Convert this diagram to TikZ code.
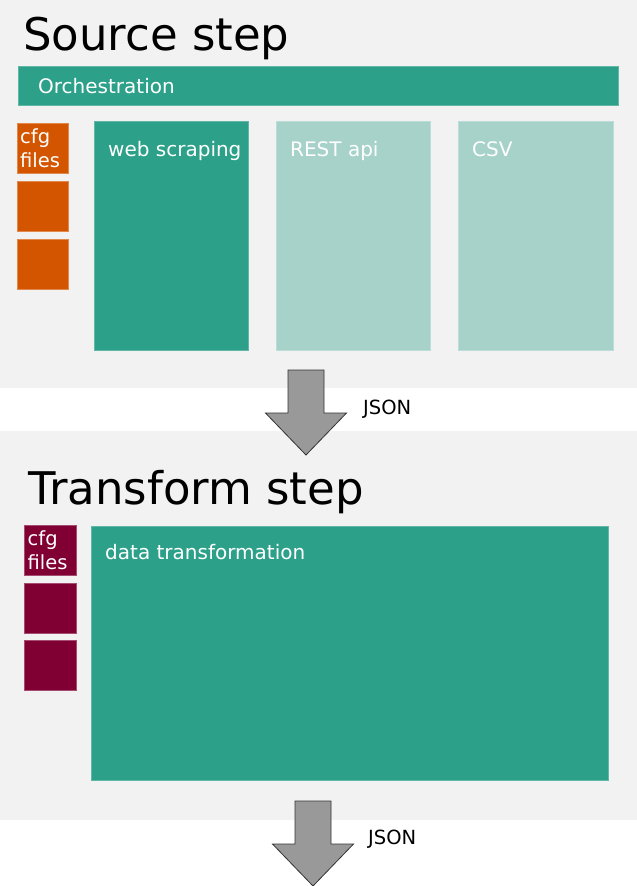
\documentclass[tikz,border=0pt]{standalone}
\usepackage{fontspec}
\setmainfont{DejaVu Sans}
\definecolor{panelgray}{HTML}{F2F2F2}
\definecolor{tealbox}{HTML}{2CA089}
\definecolor{paletealbox}{HTML}{A6D2C9}
\definecolor{cfgorange}{HTML}{D45500}
\definecolor{cfgmaroon}{HTML}{800033}
\definecolor{arrowgray}{HTML}{999999}
\definecolor{arrowedge}{HTML}{333333}
\tikzset{
  panel/.style={fill=panelgray, draw=none, inner sep=0, outer sep=0, anchor=north west},
  block/.style={inner sep=0, outer sep=0, anchor=north west, line width=0.7pt},
  tealblock/.style={block, fill=tealbox, draw=tealbox!75!white},
  paleblock/.style={block, fill=paletealbox, draw=paletealbox!75!white},
  orangeblock/.style={block, fill=cfgorange, draw=cfgorange!70!white, minimum width=51, minimum height=50},
  maroonblock/.style={block, fill=cfgmaroon, draw=cfgmaroon!70!white, minimum width=52, minimum height=50},
  lbl/.style={text=white, anchor=base west, inner sep=0, font=\fontsize{20}{24}\selectfont},
  cfglbl/.style={text=white, anchor=base west, inner sep=0, font=\fontsize{19.5}{23}\selectfont},
  steptitle/.style={text=black, anchor=base west, inner sep=0, font=\fontsize{45}{54}\selectfont},
  datalbl/.style={text=black, anchor=base west, inner sep=0, font=\fontsize{19.5}{23}\selectfont},
  downarrow/.pic={
    \draw[fill=arrowgray, draw=arrowedge, line width=0.8pt, line join=miter]
      (-18,0) -- (18,0) -- (18,43) -- (40.5,43) -- (0,85) -- (-40.5,43) -- (-18,43) -- cycle;
  }
}
\begin{document}
\begin{tikzpicture}[x=1pt, y=-1pt]
  \useasboundingbox[fill=white] (0,0) rectangle (637,886);

  % --- background panels ---
  \node[panel, minimum width=637, minimum height=388] (srcpanel) at (0,0) {};
  \node[panel, minimum width=637, minimum height=389] (trpanel) at (0,431) {};

  % --- source step ---
  \node[steptitle] (srctitle) at (23,50) {Source step};

  \node[tealblock, minimum width=600, minimum height=39] (orch) at (18,66) {};
  \node[lbl] (orchlbl) at (38,93) {Orchestration};

  \node[orangeblock] (scfg1) at (17,123) {};
  \node[orangeblock] (scfg2) at (17,181) {};
  \node[orangeblock] (scfg3) at (17,239) {};
  \node[cfglbl] (scfgA) at (20,143) {cfg};
  \node[cfglbl] (scfgB) at (20,167) {files};

  \node[tealblock, minimum width=154, minimum height=229] (web) at (94,121) {};
  \node[lbl] (weblbl) at (108,156) {web scraping};
  \node[paleblock, minimum width=154, minimum height=229] (rest) at (276,121) {};
  \node[lbl] (restlbl) at (290,156) {REST api};
  \node[paleblock, minimum width=155, minimum height=229] (csv) at (458,121) {};
  \node[lbl] (csvlbl) at (472,156) {CSV};

  % hand-over to the transform step
  \pic at (306,370) {downarrow};
  \node[datalbl] (json1) at (363,414) {JSON};

  % --- transform step ---
  \node[steptitle] (trtitle) at (28,504) {Transform step};

  \node[maroonblock] (tcfg1) at (24,525) {};
  \node[maroonblock] (tcfg2) at (24,583) {};
  \node[maroonblock] (tcfg3) at (24,640) {};
  \node[cfglbl] (tcfgA) at (27.5,545) {cfg};
  \node[cfglbl] (tcfgB) at (27.5,569) {files};

  \node[tealblock, minimum width=517, minimum height=254] (trans) at (91,526) {};
  \node[lbl] (translbl) at (105,559) {data transformation};

  % output of the transform step
  \pic at (313,801) {downarrow};
  \node[datalbl] (json2) at (368,844) {JSON};
\end{tikzpicture}
\end{document}
